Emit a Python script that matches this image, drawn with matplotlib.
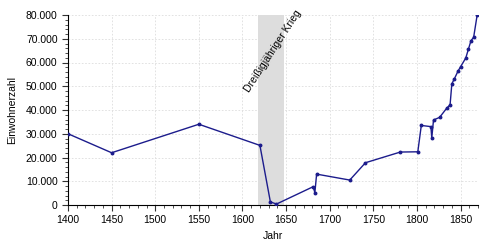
import matplotlib
matplotlib.use("Agg")
import matplotlib.pyplot as plt
from matplotlib.ticker import MultipleLocator, FuncFormatter

years = [1400, 1450, 1550, 1620, 1632, 1639, 1681, 1683, 1685, 1723, 1741,
         1781, 1801, 1805, 1816, 1817, 1819, 1826, 1834, 1838, 1840, 1843,
         1847, 1850, 1856, 1859, 1862, 1865, 1869]
population = [30000, 22000, 34000, 25100, 1300, 400, 7700, 5200, 13000, 10500, 17800,
              22300, 22400, 33500, 33000, 28200, 35800, 36900, 40700, 42200, 51000, 53200,
              56300, 58200, 61900, 65600, 69200, 70600, 79900]
war_start, war_end = 1618, 1648
war_label = "Dreißigjähriger Krieg"
x_ticks = [1400, 1450, 1500, 1550, 1600, 1650, 1700, 1750, 1800, 1850]
y_ticks = [0, 10000, 20000, 30000, 40000, 50000, 60000, 70000, 80000]

plt.rcParams['font.family'] = ['Liberation Sans', 'DejaVu Sans']
fig = plt.figure(figsize=(5, 2.5), dpi=100)
ax = fig.add_axes([0.136, 0.18, 0.82, 0.76])

ax.axvspan(war_start, war_end, color='#dddddd', zorder=0, lw=0)
ax.plot(years, population, color='#1c1c8c', lw=1.0, marker='o', ms=1.8, zorder=3)

ax.set_xlim(1400, 1870)
ax.set_ylim(0, 80000)
ax.set_xticks(x_ticks)
ax.set_yticks(y_ticks)
ax.xaxis.set_minor_locator(MultipleLocator(10))
ax.yaxis.set_minor_locator(MultipleLocator(2000))
ax.yaxis.set_major_formatter(FuncFormatter(lambda v, p: f"{int(v):,}".replace(",", ".")))
ax.tick_params(axis='both', which='major', labelsize=7.5, length=4, width=0.8, color='#333333')
ax.tick_params(axis='both', which='minor', length=2.5, width=0.6, color='#333333')
ax.grid(True, which='major', color='#dddddd', ls=(0, (2, 2)), lw=0.6)
for s in ['top', 'right']:
    ax.spines[s].set_visible(False)
for s in ['left', 'bottom']:
    ax.spines[s].set_linewidth(0.8)
ax.set_xlabel("Jahr", fontsize=7.5)
ax.set_ylabel("Einwohnerzahl", fontsize=7.5, labelpad=6)
ax.text(1635, 65000, war_label, rotation=57, ha='center', va='center', fontsize=7.5)

fig.savefig("out.png", dpi=100)
